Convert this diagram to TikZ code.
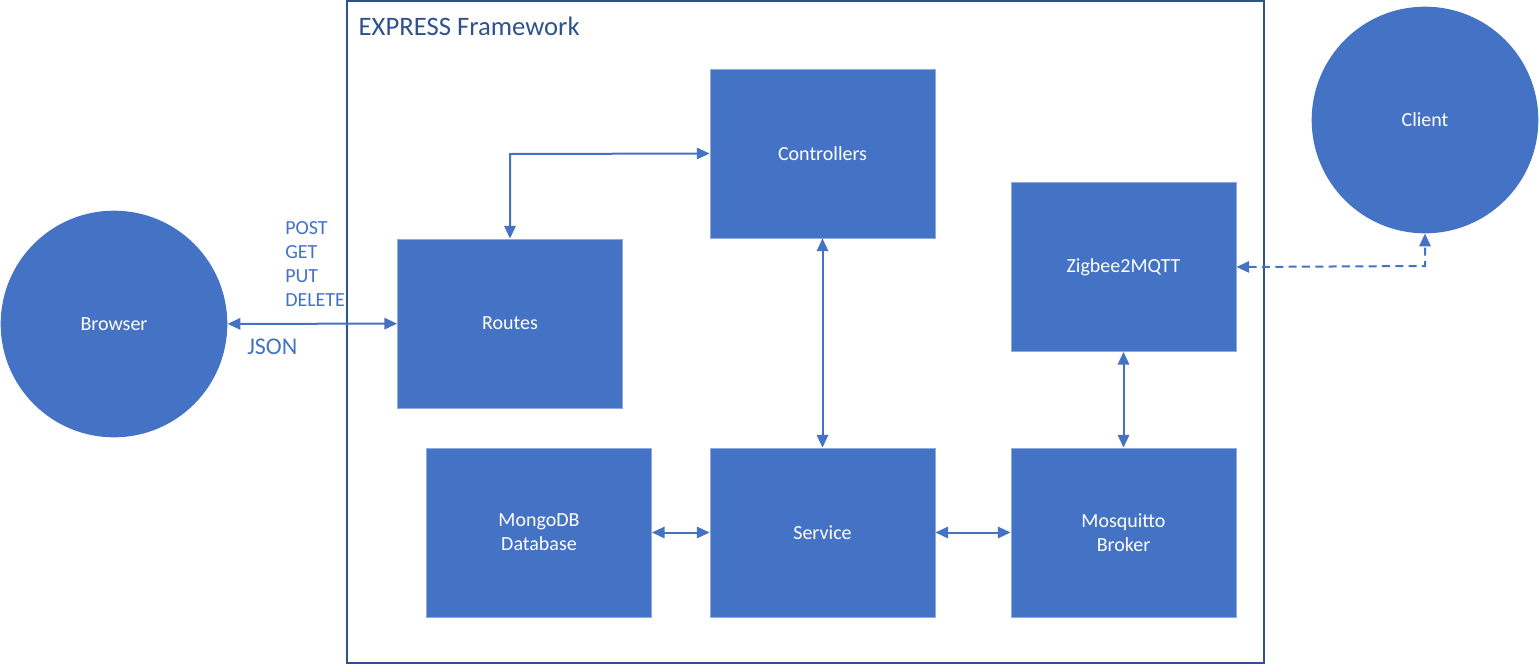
\documentclass[tikz,border=0pt]{standalone}
\usepackage{fontspec}
\setmainfont{Carlito}
\usetikzlibrary{arrows.meta}
\definecolor{boxblue}{HTML}{4472C4}
\definecolor{edgeblue}{HTML}{2F528F}
\tikzset{blk/.style={draw=boxblue!60!white,fill=boxblue,text=white,minimum width=169pt,minimum height=127pt,inner sep=0pt,align=center,font=\fontsize{15}{18}\selectfont},
         rnd/.style={circle,fill=boxblue,text=white,minimum size=170pt,inner sep=0pt,font=\fontsize{15}{18}\selectfont},
         lnk/.style={draw=boxblue,line width=1.5pt,{Triangle[length=9.5pt,width=8.5pt]}-{Triangle[length=9.5pt,width=8.5pt]}}}
\begin{document}
\begin{tikzpicture}[x=0.75pt,y=-0.75pt]
                      \useasboundingbox (0,0) rectangle (1539,665);
                      \draw[edgeblue,line width=0.9pt](347,1)rectangle(1264,663);
                      \node[anchor=west,text=edgeblue,font=\fontsize{20}{24}\selectfont](title)at(354,26){EXPRESS Framework};
                      \node[rnd](browser)at(114,324){Browser};
                      \node[rnd](client)at(1425,120){Client};
                      \node[blk](ctrl)at(822.5,153.5){Controllers};
                      \node[blk](routes)at(510,323.5){Routes};
                      \node[blk](zigbee)at(1123.5,267){Zigbee2MQTT};
                      \node[blk](mongo)at(539,532.5){MongoDB\\Database};
                      \node[blk](service)at(822.5,532.5){Service};
                      \node[blk](mosq)at(1123.5,532.5){Mosquitto\\Broker};
                      \node[anchor=north west,text=boxblue,align=left,font=\fontsize{15}{18}\selectfont,inner sep=0pt](verbs)at(285,221){POST\\GET\\PUT\\DELETE};
                      \node[anchor=west,text=boxblue,font=\fontsize{18}{22}\selectfont,inner sep=0pt](json)at(247,347){JSON};
                      \coordinate(bend)at(510,154);
                      \coordinate(turn)at(1425,266);
                      \draw[lnk](browser)--(routes);
                      \draw[lnk](routes.north)--(bend)--(ctrl.west);
                      \draw[lnk](ctrl)--(service);
                      \draw[lnk](zigbee)--(mosq);
                      \draw[lnk](mongo)--(service);
                      \draw[lnk](service)--(mosq);
                      \draw[lnk,dashed,dash pattern=on 6pt off 4pt](zigbee.east)--(turn)--(client.south);
                  \end{tikzpicture}
\end{document}
